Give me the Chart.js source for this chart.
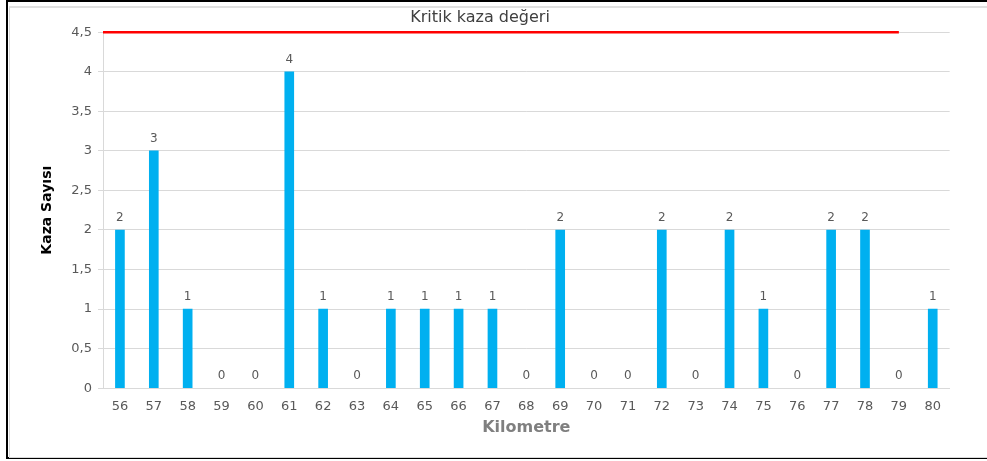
<!DOCTYPE html>
<html>
<head>
<meta charset="utf-8">
<script src="https://cdn.jsdelivr.net/npm/chart.js@4/dist/chart.umd.min.js"></script>
<style>
  html, body { margin: 0; padding: 0; background: #fff; width: 987px; height: 461px; overflow: hidden; }
  #frame { position: absolute; left: 6px; top: 0px; width: 1000px; height: 455px; border: 2px solid #000; box-sizing: content-box; }
  #inner { position: absolute; left: 9px; top: 6px; width: 1000px; height: 449px; border-left: 1px solid #d9d9d9; border-top: 2px solid #e0e0e0; border-bottom: 1px solid #d9d9d9; }
  #wrap { position: absolute; left: 8px; top: 0px; width: 944px; height: 461px; }
</style>
</head>
<body>
<div id="frame"></div>
<div id="inner"></div>
<div id="wrap"><canvas id="c"></canvas></div>
<script>
const kilometres = ['56','57','58','59','60','61','62','63','64','65','66','67','68','69','70','71','72','73','74','75','76','77','78','79','80'];
const accidents = [2,3,1,0,0,4,1,0,1,1,1,1,0,2,0,0,2,0,2,1,0,2,2,0,1];
const criticalValue = 4.5;
const criticalFrom = 55.5;
const criticalTo = 79;
const yTickMax = 4.5;
const yTickStep = 0.5;

const FONT = "'DejaVu Sans', sans-serif";

const labelPlugin = {
  id: 'valueLabels',
  afterDatasetsDraw(chart) {
    const meta = chart.getDatasetMeta(0);
    const ctx = chart.ctx;
    ctx.save();
    ctx.fillStyle = '#595959';
    ctx.font = '12px ' + FONT;
    ctx.textAlign = 'center';
    ctx.textBaseline = 'bottom';
    meta.data.forEach((bar, i) => {
      ctx.fillText(String(accidents[i]), bar.x, bar.y - 6);
    });
    ctx.restore();
  }
};

new Chart(document.getElementById('c'), {
  data: {
    labels: kilometres,
    datasets: [
      {
        type: 'bar',
        data: accidents,
        backgroundColor: ctx => (ctx.raw === 0 ? 'rgba(0,0,0,0)' : '#00b0f0'),
        borderWidth: 0,
        barThickness: 9,
        grouped: false,
        xAxisID: 'x',
        order: 2
      },
      {
        type: 'line',
        data: [{x: criticalFrom, y: criticalValue}, {x: criticalTo, y: criticalValue}],
        borderColor: '#ff0000',
        borderWidth: 2.5,
        pointRadius: 0,
        clip: false,
        xAxisID: 'x2',
        order: 1
      }
    ]
  },
  options: {
    responsive: true,
    maintainAspectRatio: false,
    animation: false,
    layout: { padding: { left: 0, right: 0, top: 0, bottom: 24 } },
    plugins: {
      legend: { display: false },
      tooltip: { enabled: false },
      title: {
        display: true,
        text: 'Kritik kaza değeri',
        color: '#404040',
        font: { family: FONT, size: 16, weight: 'normal' },
        padding: { top: 8, bottom: 5 }
      }
    },
    scales: {
      x: {
        type: 'category',
        offset: true,
        grid: { display: false, drawTicks: false },
        border: { display: true, color: '#d9d9d9', width: 1 },
        ticks: { color: '#595959', font: { family: FONT, size: 13 }, padding: 11, maxRotation: 0, autoSkip: false },
        title: { display: true, text: 'Kilometre', color: '#7f7f7f', font: { family: FONT, size: 16, weight: 'bold' }, padding: { top: -8, bottom: 0 } }
      },
      x2: {
        type: 'linear',
        display: false,
        min: 55.5,
        max: 80.5
      },
      y: {
        min: 0,
        max: yTickMax,
        ticks: {
          stepSize: yTickStep,
          color: '#595959',
          font: { family: FONT, size: 13 },
          padding: 6,
          callback: v => String(v).replace('.', ',')
        },
        grid: { color: '#d9d9d9', tickLength: 5, tickColor: '#d9d9d9' },
        border: { display: true, color: '#d9d9d9' },
        title: { display: true, text: 'Kaza Sayısı', color: '#000', font: { family: FONT, size: 14, weight: 'bold' }, padding: { top: 31, bottom: 14 } },
        afterFit(scale) { scale.width = 95; }
      }
    }
  },
  plugins: [labelPlugin]
});
</script>
</body>
</html>
